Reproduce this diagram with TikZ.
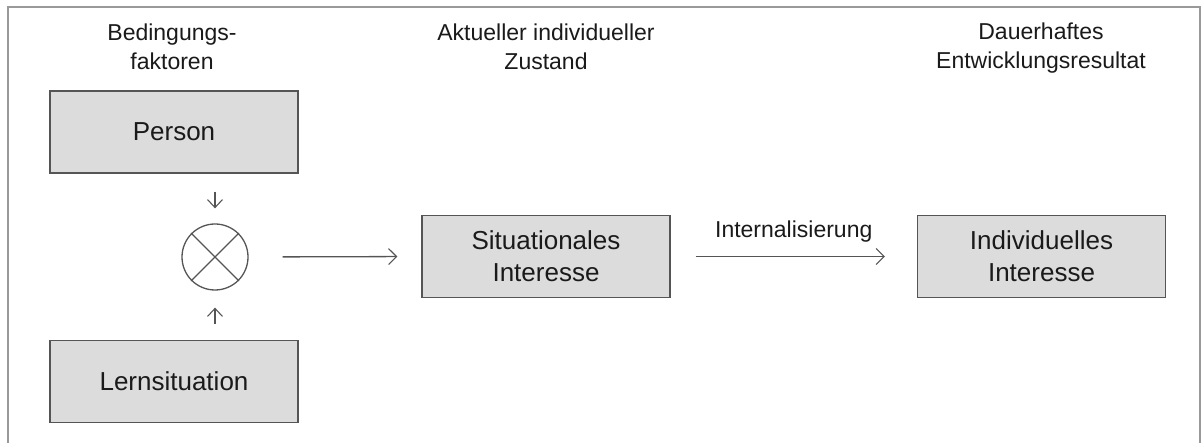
\documentclass[tikz,border=0pt]{standalone}
\usepackage{fontspec}
\setmainfont{Liberation Sans}
\usepackage{xcolor}
\usetikzlibrary{arrows.meta,calc,positioning,shapes.geometric}
\definecolor{boxgray}{HTML}{DCDCDC}
\definecolor{linegray}{HTML}{555555}
\definecolor{txtgray}{HTML}{1A1A1A}

\begin{document}
\begin{tikzpicture}[x=1pt,y=-1pt,line width=1.3pt,>={Straight Barb[length=8pt,width=16pt,line width=1.1pt]},
  fbox/.style={draw=linegray,fill=boxgray,minimum width=248pt,minimum height=82pt,align=center,font=\fontsize{26}{32}\selectfont,text=txtgray},
  head/.style={align=center,font=\fontsize{23}{29}\selectfont,text=txtgray},
  conn/.style={->,draw=linegray}]
\useasboundingbox (0,0) rectangle (1202,443);
\draw[gray!80,line width=1.2pt] (8,7) rectangle (1200,460);
\node[head] (h1) at (172,47) {Bedingungs-\\faktoren};
\node[head] (h2) at (546,47) {Aktueller individueller\\Zustand};
\node[head] (h3) at (1041,48) {Dauerhaftes\\Entwicklungsresultat};
\node[fbox] (person) at (174,132) {Person};
\node[fbox] (lern) at (174,381.5) {Lernsituation};
\node[fbox] (sit) at (546,256.5) {Situationales\\Interesse};
\node[fbox] (ind) at (1041.5,256.5) {Individuelles\\Interesse};
\node[circle,draw=linegray,minimum size=66pt,inner sep=0pt] (mix) at (215,257) {};
\draw[linegray] (mix.north west)--(mix.south east) (mix.north east)--(mix.south west);
\draw[conn,line width=1.1pt,>={Straight Barb[length=8pt,width=15pt]}] (person.south -| mix) ++(0,18) coordinate (pd) -- ($(mix.north)+(0,-15)$);
\draw[conn,line width=1.1pt,>={Straight Barb[length=8pt,width=15pt]}] (lern.north -| mix) ++(0,-16) coordinate (lu) -- ($(mix.south)+(0,17)$);
\draw[conn,shorten <=34pt,shorten >=24pt] (mix.east) -- (sit.west);
\draw[conn,shorten <=25pt,shorten >=32pt] (sit.east) -- node[above=10pt,head] (lab) {Internalisierung} (ind.west);
\end{tikzpicture}
\end{document}
